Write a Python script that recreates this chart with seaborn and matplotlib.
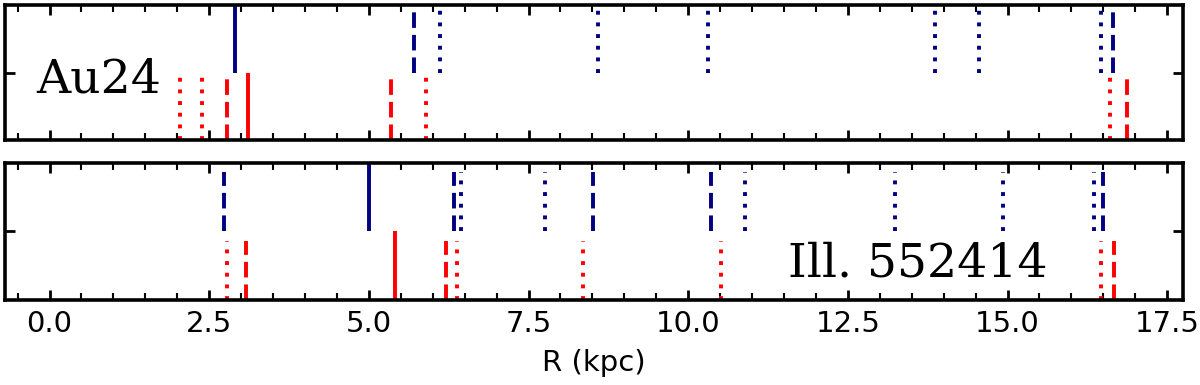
import numpy as np
import matplotlib
matplotlib.use("Agg")
import matplotlib.pyplot as plt
import seaborn as sns
from matplotlib.ticker import MultipleLocator

# positions (kpc)
au24_blue_solid = [2.91]
au24_blue_dashed = [5.70, 16.65]
au24_blue_dotted = [6.11, 8.59, 10.31, 13.86, 14.56, 16.46]
au24_red_solid = [3.11]
au24_red_dashed = [2.78, 5.35, 16.87]
au24_red_dotted = [2.05, 2.38, 5.89, 16.61]

ill_blue_solid = [5.01]
ill_blue_dashed = [2.73, 6.34, 8.51, 10.36, 16.49]
ill_blue_dotted = [6.45, 7.75, 10.89, 13.23, 14.93, 16.36]
ill_red_solid = [5.41]
ill_red_dashed = [3.08, 6.20, 16.67]
ill_red_dotted = [2.78, 6.38, 8.35, 10.51, 16.46]

names = ["Au24", "Ill. 552414"]
xticks = [0.0, 2.5, 5.0, 7.5, 10.0, 12.5, 15.0, 17.5]

sns.set_style("ticks")
plt.rcParams["font.family"] = ["DejaVu Sans"]
plt.rcParams["text.color"] = "black"
plt.rcParams["axes.labelcolor"] = "black"
plt.rcParams["xtick.color"] = "black"
plt.rcParams["ytick.color"] = "black"

fig = plt.figure(figsize=(12, 3.85), dpi=100)
ax1 = fig.add_axes([0.004, 0.636, 0.982, 0.351])
ax2 = fig.add_axes([0.004, 0.221, 0.982, 0.356])

lw = 2.8
dash = (0, (4.0, 1.8))
dot = (0, (1.0, 2.0))


def draw(ax, xs, lo, hi, color, ls):
    if len(xs) == 0:
        return
    ax.vlines(xs, lo, hi, colors=color, linestyles=ls, linewidth=lw,
              transform=ax.get_xaxis_transform())


# Au24
draw(ax1, au24_blue_solid, 0.5, 1.0, "navy", "solid")
draw(ax1, au24_blue_dashed, 0.5, 0.96, "navy", dash)
draw(ax1, au24_blue_dotted, 0.5, 0.96, "navy", dot)
draw(ax1, au24_red_solid, 0.0, 0.5, "red", "solid")
draw(ax1, au24_red_dashed, 0.0, 0.5, "red", dash)
draw(ax1, au24_red_dotted, 0.0, 0.5, "red", dot)

# Illustris
draw(ax2, ill_blue_solid, 0.5, 1.0, "navy", "solid")
draw(ax2, ill_blue_dashed, 0.5, 0.93, "navy", dash)
draw(ax2, ill_blue_dotted, 0.5, 0.93, "navy", dot)
draw(ax2, ill_red_solid, 0.0, 0.5, "red", "solid")
draw(ax2, ill_red_dashed, 0.0, 0.43, "red", dash)
draw(ax2, ill_red_dotted, 0.0, 0.43, "red", dot)

ax1.text(-0.2, 0.356, names[0], transform=ax1.get_xaxis_transform(),
         family="DejaVu Serif", fontsize=34, va="baseline", color="black")
ax2.text(11.57, 0.17, names[1], transform=ax2.get_xaxis_transform(),
         family="DejaVu Serif", fontsize=34, va="baseline", color="black")

for ax in (ax1, ax2):
    ax.set_xlim(-0.7, 17.75)
    ax.set_ylim(0, 1)
    ax.set_xticks(xticks)
    ax.xaxis.set_minor_locator(MultipleLocator(0.5))
    ax.set_yticks([0.5])
    ax.set_yticklabels([])
    ax.tick_params(which="major", direction="in", top=True, right=True,
                   length=7, width=2, labelsize=21, pad=7)
    ax.tick_params(which="minor", direction="in", top=True, bottom=True,
                   length=5, width=1.5)
    for sp in ax.spines.values():
        sp.set_visible(True)
        sp.set_linewidth(2.6)
        sp.set_color("black")

ax1.set_xticklabels([])
ax2.set_xticklabels([f"{t:.1f}" for t in xticks])
ax2.set_xlabel("R (kpc)", fontsize=21, labelpad=8)

fig.savefig("out.png", dpi=100)
